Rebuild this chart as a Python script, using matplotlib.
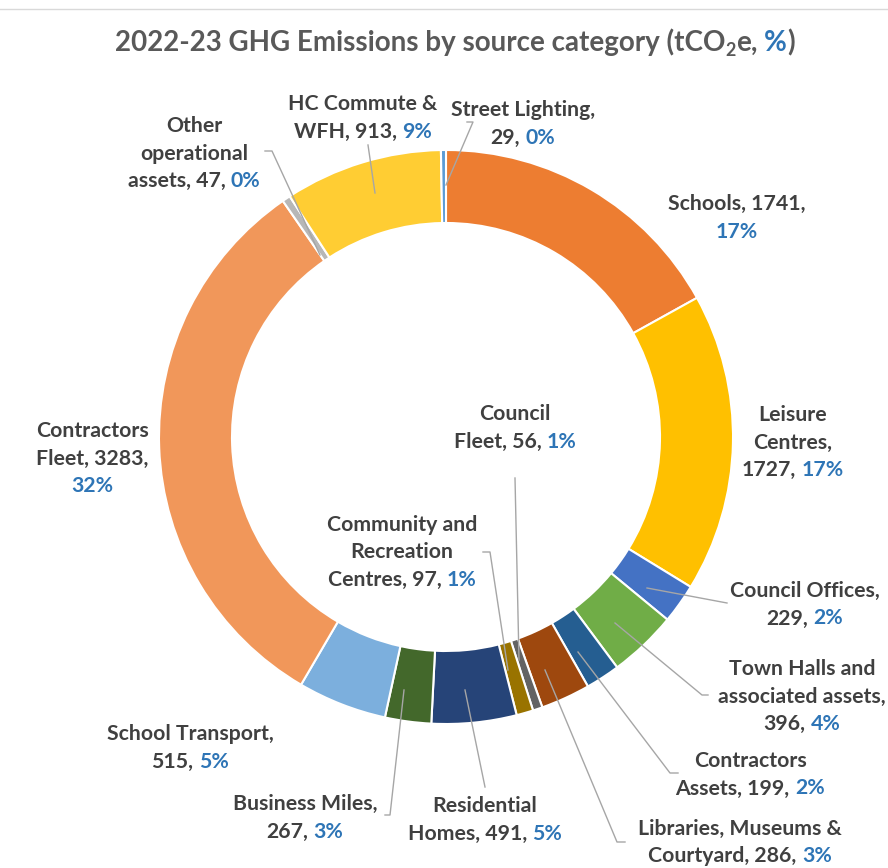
# Doughnut chart of 2022-23 GHG emissions by source category

import numpy as np
import matplotlib.pyplot as plt

# Data (clockwise from 12 o'clock)
categories = ['Schools', 'Leisure Centres', 'Council Offices', 'Town Halls and associated assets',
              'Contractors Assets', 'Libraries, Museums & Courtyard', 'Council Fleet',
              'Community and Recreation Centres', 'Residential Homes', 'Business Miles',
              'School Transport', 'Contractors Fleet', 'Other operational assets',
              'HC Commute & WFH', 'Street Lighting']
emissions = [1741, 1727, 229, 396, 199, 286, 56, 97, 491, 267, 515, 3283, 47, 913, 29]
colours = ['#ED7D31', '#FFC000', '#4472C4', '#70AD47', '#255E91', '#9E480E', '#636363',
           '#997300', '#264478', '#43682B', '#7CAFDD', '#F1975A', '#B7B7B7', '#FFCD33', '#5B9BD5']

# how each label is broken into lines (last line gets the blue percentage)
label_lines = [['Schools, {v},', ''], ['Leisure', 'Centres,', '{v},'], ['Council Offices,', '{v},'],
               ['Town Halls and', 'associated assets,', '{v},'], ['Contractors', 'Assets, {v},'],
               ['Libraries, Museums &', 'Courtyard, {v},'], ['Council', 'Fleet, {v},'],
               ['Community and', 'Recreation', 'Centres, {v},'], ['Residential', 'Homes, {v},'],
               ['Business Miles,', '{v},'], ['School Transport,', '{v},'],
               ['Contractors', 'Fleet, {v},', ''], ['Other', 'operational', 'assets, {v},'],
               ['HC Commute &', 'WFH, {v},'], ['Street Lighting,', '{v},']]
# label centre (x, first line y) in pixels from top-left
label_pos = [(737, 203), (793, 414), (805, 590), (802, 668), (750, 760), (740, 828), (515, 413),
             (402, 524), (485, 805), (305, 803), (190, 733), (92, 430), (194, 125), (363, 103),
             (523, 109)]
# leader lines (pixel points), None where Excel drew none
leaders = [None, None, [(647, 588), (727, 603)], [(615, 623), (702, 695), (708, 695)],
           [(578, 652), (670, 773), (678, 773)], [(545, 670), (617, 842), (625, 842)],
           [(519, 660), (515, 478)], [(508, 670), (490, 552), (483, 552)],
           [(465, 690), (485, 787)], [(404, 690), (390, 815), (385, 815)], None, None,
           [(320, 255), (272, 151), (265, 151)], [(375, 193), (368, 145)],
           [(446, 185), (473, 122), (467, 122)]]

W, H = 888, 868
TXT = '#404040'
BLUE = '#2E75B6'
plt.rcParams['font.family'] = ['Lato', 'DejaVu Sans']

fig = plt.figure(figsize=(W / 100, H / 100), dpi=100)
ax = fig.add_axes([0, 0, 1, 1])


def Y(py):
    return H - py


ax.pie(emissions, colors=colours, startangle=90, counterclock=False, radius=287,
       center=(446, Y(437)), wedgeprops=dict(width=73, edgecolor='white', linewidth=1.5))
ax.set_xlim(0, W)
ax.set_ylim(0, H)
ax.set_aspect('equal')
ax.axis('off')

renderer = fig.canvas.get_renderer()


def draw_row(cx, py, parts):
    # parts: (text, colour, size, dy, gap_before) drawn left to right and centred on cx
    items = []
    for s, c, fs, dy, gap in parts:
        t = ax.text(0, Y(py) + dy, s, color=c, fontsize=fs, fontweight='bold',
                    ha='left', va='baseline')
        items.append((t, gap * fs * 100 / 72))
    widths = [t.get_window_extent(renderer).width for t, g in items]
    total = sum(widths) + sum(g for t, g in items)
    x = cx - total / 2
    for (t, g), w in zip(items, widths):
        x += g
        t.set_x(x)
        x += w


FS = 15.3
LH = 27.5
total = sum(emissions)
for i, v in enumerate(emissions):
    cx, y0 = label_pos[i]
    lines = label_lines[i]
    pct = f'{round(100 * v / total)}%'
    for j, ln in enumerate(lines):
        py = y0 + j * LH + 7
        txt = ln.format(v=v)
        if j < len(lines) - 1:
            draw_row(cx, py, [(txt, TXT, FS, 0, 0)])
        elif txt:
            draw_row(cx, py, [(txt, TXT, FS, 0, 0), (pct, BLUE, FS, 0, 0.25)])
        else:
            draw_row(cx, py, [(pct, BLUE, FS, 0, 0)])
    if leaders[i]:
        xs = [p[0] for p in leaders[i]]
        ys = [Y(p[1]) for p in leaders[i]]
        ax.plot(xs, ys, color='#A6A6A6', lw=1)

# title with subscript and blue %
TFS = 20
draw_row(455, 51, [('2022-23 GHG Emissions by source category (tCO', '#595959', TFS, 0, 0),
                   ('2', '#595959', TFS * 0.65, -5, 0),
                   ('e,', '#595959', TFS, 0, 0),
                   ('%', BLUE, TFS, 0, 0.25),
                   (')', '#595959', TFS, 0, 0)])

ax.plot([0, W], [Y(9), Y(9)], color='#D9D9D9', lw=1)

fig.savefig('out.png', dpi=100)
